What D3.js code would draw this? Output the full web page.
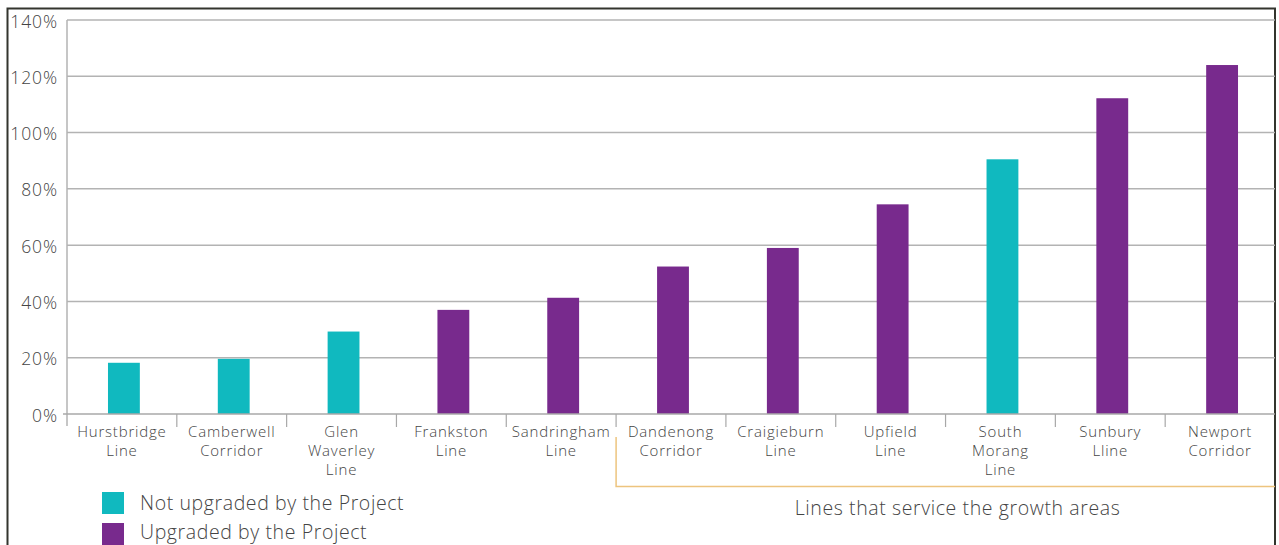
<!DOCTYPE html>
<html>
<head>
<meta charset="utf-8">
<script src="https://cdn.jsdelivr.net/npm/d3@7"></script>
<style>
  html, body { margin: 0; padding: 0; background: #fff; }
  svg { display: block; font-family: "Open Sans", Lato, sans-serif; font-weight: 300; }
</style>
</head>
<body>
<svg id="chart" width="1279" height="545"></svg>
<script>
// ---- data ----
const categories = [
  ["Hurstbridge", "Line"],
  ["Camberwell", "Corridor"],
  ["Glen", "Waverley", "Line"],
  ["Frankston", "Line"],
  ["Sandringham", "Line"],
  ["Dandenong", "Corridor"],
  ["Craigieburn", "Line"],
  ["Upfield", "Line"],
  ["South", "Morang", "Line"],
  ["Sunbury", "Lline"],
  ["Newport", "Corridor"]
];
const values = [18.2, 19.6, 29.3, 37.0, 41.3, 52.4, 59.0, 74.5, 90.5, 112.2, 124.0];
const upgraded = [false, false, false, true, true, true, true, true, false, true, true];
const yTicks = [0, 20, 40, 60, 80, 100, 120, 140];
const legendLabels = ["Not upgraded by the Project", "Upgraded by the Project"];
const bracketLabel = "Lines that service the growth areas";
const growthStart = 5; // index of first growth-area line

// ---- styles ----
const teal = "#10b9bf";
const purple = "#782a8d";
const textColor = "#444";
const fontFam = "'Open Sans', Lato, sans-serif";

const svg = d3.select("#chart");
svg.append("rect").attr("width", 1279).attr("height", 545).attr("fill", "#fff");

const plotLeft = 67, plotRight = 1275, plotTop = 20, plotBottom = 414;
const keys = categories.map((c, i) => i);
const x = d3.scaleBand().domain(keys).range([plotLeft, plotRight]).padding(0);
const y = d3.scaleLinear().domain([0, 140]).range([plotBottom, plotTop]);

// frame
svg.append("rect")
  .attr("x", 7.5).attr("y", 8.5).attr("width", 1267.5).attr("height", 560)
  .attr("fill", "none").attr("stroke", "#33352e").attr("stroke-width", 2);

// gridlines
svg.append("g").selectAll("line").data(yTicks.filter(d => d > 0)).join("line")
  .attr("x1", plotLeft).attr("x2", plotRight)
  .attr("y1", d => y(d)).attr("y2", d => y(d))
  .attr("stroke", "#b3b3b3").attr("stroke-width", 1.5);

// y axis labels
const yAxis = d3.axisLeft(y).tickValues(yTicks).tickFormat(d => d + "%").tickSize(0).tickPadding(9);
const ya = svg.append("g").attr("transform", `translate(${plotLeft},0)`).call(yAxis);
ya.select(".domain").remove();
ya.selectAll("text")
  .attr("font-size", 17.5).attr("fill", textColor)
  .attr("font-family", fontFam).attr("font-weight", 300)
  .attr("letter-spacing", 0.9)
  .attr("dy", "0.4em");

// y axis vertical line
svg.append("line").attr("x1", plotLeft).attr("x2", plotLeft).attr("y1", plotTop).attr("y2", plotBottom + 12)
  .attr("stroke", "#b3b3b3").attr("stroke-width", 1.5);

// bars
const barW = x.bandwidth() * 0.29;
svg.append("g").selectAll("rect").data(values).join("rect")
  .attr("x", (d, i) => x(i) + x.bandwidth() / 2 - barW / 2 + 2)
  .attr("y", d => y(d))
  .attr("width", barW)
  .attr("height", d => y(0) - y(d))
  .attr("fill", (d, i) => upgraded[i] ? purple : teal);

// baseline
svg.append("line").attr("x1", plotLeft - 4).attr("x2", plotRight).attr("y1", y(0)).attr("y2", y(0))
  .attr("stroke", "#a8a8a8").attr("stroke-width", 1.5);

// category separators
svg.append("g").selectAll("line").data(keys.slice(1)).join("line")
  .attr("x1", d => x(d)).attr("x2", d => x(d))
  .attr("y1", y(0)).attr("y2", y(0) + 13)
  .attr("stroke", "#a8a8a8").attr("stroke-width", 1.2);

// category labels
const lab = svg.append("g").selectAll("text").data(categories).join("text")
  .attr("text-anchor", "middle")
  .attr("font-size", 15).attr("fill", textColor)
  .attr("letter-spacing", 0.8)
  .attr("x", (d, i) => x(i) + x.bandwidth() / 2)
  .attr("y", 437);
lab.selectAll("tspan").data(d => d).join("tspan")
  .attr("x", function () { return d3.select(this.parentNode).attr("x"); })
  .attr("dy", (d, i) => i === 0 ? 0 : 19)
  .text(d => d);

// bracket for growth areas
const bx = x(growthStart);
svg.append("path")
  .attr("d", `M${bx},437 V486.5 H${plotRight}`)
  .attr("fill", "none").attr("stroke", "#edc47e").attr("stroke-width", 1.5);
svg.append("text")
  .attr("x", (bx + plotRight) / 2 + 12).attr("y", 515)
  .attr("text-anchor", "middle").attr("font-size", 19.5).attr("fill", textColor)
  .attr("letter-spacing", 0.6)
  .text(bracketLabel);

// legend
const lg = svg.append("g").selectAll("g").data(legendLabels).join("g")
  .attr("transform", (d, i) => `translate(102,${492 + i * 31})`);
lg.append("rect").attr("width", 22).attr("height", 22)
  .attr("fill", (d, i) => i === 0 ? teal : purple);
lg.append("text").attr("x", 38).attr("y", (d, i) => i === 0 ? 18 : 16)
  .attr("font-size", 19.5).attr("fill", textColor).attr("letter-spacing", 0.6)
  .text(d => d);
</script>
</body>
</html>
